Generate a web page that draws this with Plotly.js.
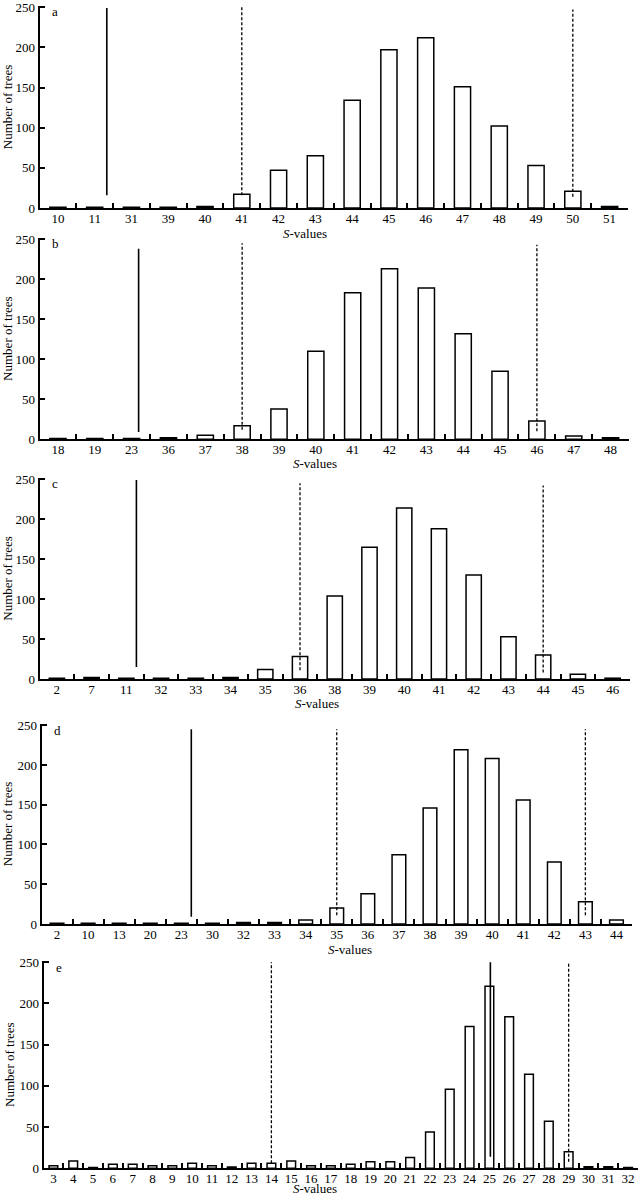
<!DOCTYPE html>
<html>
<head>
<meta charset="utf-8">
<script src="https://cdn.plot.ly/plotly-3.0.1.min.js"></script>
<style>
  html, body { margin: 0; padding: 0; background: #fff; }
  #chart { width: 642px; height: 1198px; }
</style>
</head>
<body>
<div id="chart"></div>
<script>
// S-value categories and tree counts per panel
var catsA = ['10','11','31','39','40','41','42','43','44','45','46','47','48','49','50','51'];
var countsA = [1,1,1,1,2,17,47,65,134,197,212,151,102,53,21,2];

var catsB = ['18','19','23','36','37','38','39','40','41','42','43','44','45','46','47','48'];
var countsB = [1,1,1,2,5,17,38,110,183,213,189,132,85,23,4,2];

var catsC = ['2','7','11','32','33','34','35','36','38','39','40','41','42','43','44','45','46'];
var countsC = [1,2,1,1,1,2,12,28,104,165,214,188,130,53,30,6,1];

var catsD = ['2','10','13','20','23','30','32','33','34','35','36','37','38','39','40','41','42','43','44'];
var countsD = [1,1,1,1,1,1,2,2,5,20,38,87,146,219,208,156,78,28,5];

var catsE = ['3','4','5','6','7','8','9','10','11','12','13','14','15','16','17','18','19','20',
             '21','22','23','24','25','26','27','28','29','30','31','32'];
var countsE = [3,9,1,5,5,3,3,6,3,1.5,6,6,9,3,3,5,8,8,13,44,96,172,221,184,114,57,20,2,2,1];

// solid line: position (category index) and extent
var solidPos = [1.33, 2.19, 2.29, 4.32, 22.05];
var solidSpan = [[16,249],[9,238],[15,249],[9,245],[14,250]];

// dashed lines: category and extent
var dashCats = [['41','50'],['38','46'],['36','44'],['35','43'],['14','29']];
var dashSpans = [[[16,250],[14,247]],[[12,245],[10,243]],[[11,245],[8,242]],[[11,245],[11,245]],[[6,250],[8,250]]];

var yTicks = [0, 50, 100, 150, 200, 250];
var panelLetters = ['a','b','c','d','e'];

var allCats = [catsA, catsB, catsC, catsD, catsE];
var allCounts = [countsA, countsB, countsC, countsD, countsE];

// layout boxes in pixels: [left, right, top, bottom]; x-title centre and drop below axis
var W = 642, H = 1198;
var boxes = [
  [39.5, 628, 6, 208],
  [39.5, 629, 238, 439.3],
  [39.5, 630, 478, 679],
  [41.5, 632, 724, 924],
  [43.5, 638, 961, 1168.3]
];
var titleX = [305, 315, 317, 350, 315];
var titleDrop = [25, 24, 24, 25, 20];

var FONT = '"Liberation Serif", "Times New Roman", serif';

var data = [];
var layout = {
  width: W, height: H,
  margin: {l: 0, r: 0, t: 0, b: 0},
  paper_bgcolor: '#fff',
  plot_bgcolor: 'rgba(0,0,0,0)',
  showlegend: false,
  bargap: 0.56,
  font: {family: FONT, size: 13, color: '#000'},
  shapes: [],
  annotations: []
};

for (var i = 0; i < 5; i++) {
  var sfx = i === 0 ? '' : String(i + 1);
  var xa = 'x' + sfx, ya = 'y' + sfx;
  var b = boxes[i];

  data.push({
    type: 'bar',
    x: allCats[i],
    y: allCounts[i],
    xaxis: xa, yaxis: ya,
    marker: {color: '#fff', line: {color: '#000', width: 1.5}},
    hoverinfo: 'x+y'
  });

  layout['xaxis' + sfx] = {
    type: 'category',
    domain: [b[0] / W, b[1] / W],
    anchor: ya,
    range: [-0.5, allCats[i].length - 0.5],
    showline: true, linecolor: '#000', linewidth: 2,
    ticks: 'inside', tickson: 'boundaries', ticklen: 5, tickwidth: 2, tickcolor: '#000',
    tickangle: 0, ticklabelstandoff: -3, ticklabeloverflow: 'allow',
    showgrid: false, zeroline: false,
    tickfont: {family: FONT, size: 13, color: '#000'},
    fixedrange: true
  };
  layout['yaxis' + sfx] = {
    domain: [1 - b[3] / H, 1 - b[2] / H],
    anchor: xa,
    range: [0, 251.5],
    tickvals: yTicks,
    ticktext: yTicks.map(String),
    showline: true, linecolor: '#000', linewidth: 2,
    ticks: 'inside', ticklen: 5, tickwidth: 2, tickcolor: '#000',
    ticklabeloverflow: 'allow',
    showgrid: false, zeroline: false,
    tickfont: {family: FONT, size: 13, color: '#000'},
    title: {text: 'Number of trees', font: {family: FONT, size: 13, color: '#000'}, standoff: 2},
    fixedrange: true
  };

  // solid reference line
  layout.shapes.push({
    type: 'line', xref: xa, yref: ya,
    x0: solidPos[i], x1: solidPos[i],
    y0: solidSpan[i][0], y1: solidSpan[i][1],
    line: {color: '#000', width: 1.6}
  });
  // dashed reference lines, placed at the index of their category
  for (var k = 0; k < dashCats[i].length; k++) {
    var idx = allCats[i].indexOf(dashCats[i][k]);
    layout.shapes.push({
      type: 'line', xref: xa, yref: ya,
      x0: idx, x1: idx,
      y0: dashSpans[i][k][0], y1: dashSpans[i][k][1],
      line: {color: '#000', width: 1.3, dash: '3px,2px'}
    });
  }

  // panel letter
  layout.annotations.push({
    text: panelLetters[i], xref: 'paper', yref: 'paper',
    x: (b[0] + 10) / W, y: 1 - (b[2] + 6) / H,
    xanchor: 'left', yanchor: 'middle', showarrow: false,
    font: {family: FONT, size: 13, color: '#000'}
  });
  // x-axis title
  layout.annotations.push({
    text: '<i>S</i>-values', xref: 'paper', yref: 'paper',
    x: titleX[i] / W, y: 1 - (b[3] + titleDrop[i]) / H,
    xanchor: 'center', yanchor: 'middle', showarrow: false,
    font: {family: FONT, size: 13, color: '#000'}
  });
}

Plotly.newPlot('chart', data, layout, {displayModeBar: false, staticPlot: true});
</script>
</body>
</html>
